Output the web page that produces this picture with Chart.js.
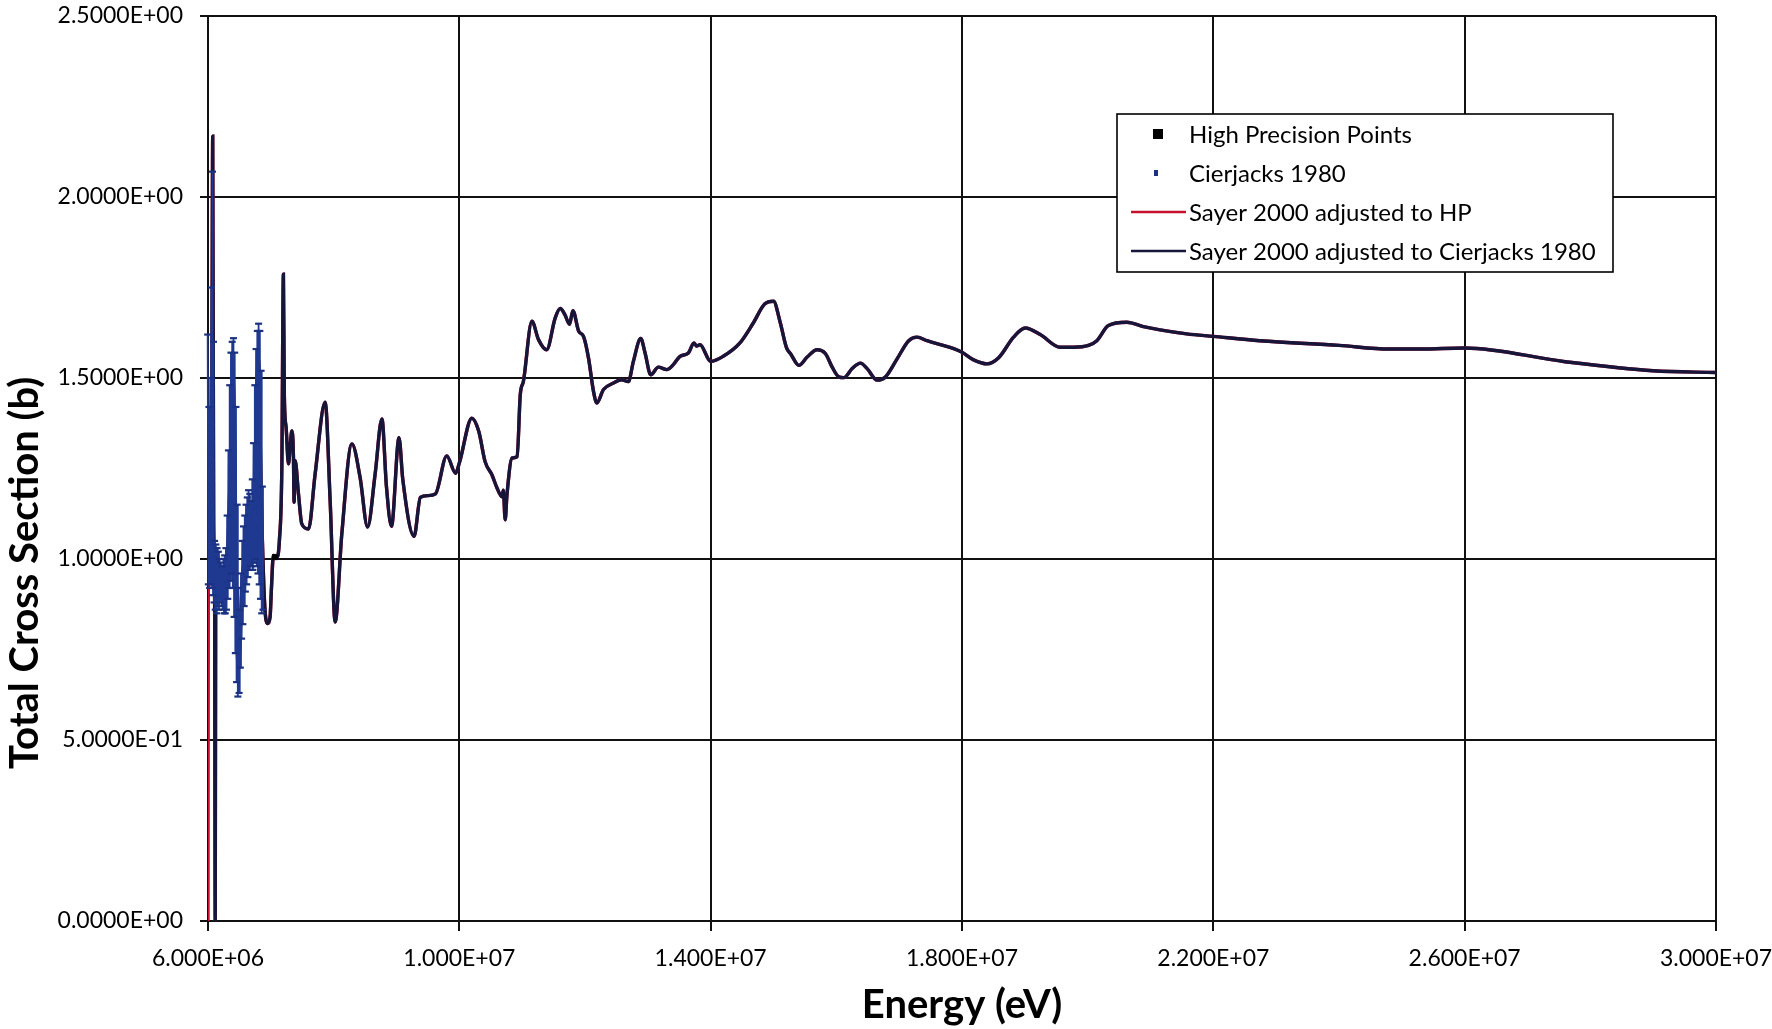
<!DOCTYPE html>
<html lang="en">
<head>
  <meta charset="UTF-8" />
  <title>Total Cross Section vs Energy</title>
  <script src="https://cdn.jsdelivr.net/npm/chart.js"></script>
  <style>
    html, body { margin: 0; padding: 0; background: #fff; }
    canvas { display: block; }
  </style>
</head>
<body>
  <canvas id="xsChart" width="1772" height="1029"></canvas>

  <script>
    // axis ticks
    const xTicks = [6e6, 1e7, 1.4e7, 1.8e7, 2.2e7, 2.6e7, 3e7];
    const yTicks = [0, 0.5, 1.0, 1.5, 2.0, 2.5];

    // High precision points (black squares)
    const hpE  = [7.065e6];
    const hpXS = [1.005];

    // Cierjacks 1980 - dense resonance data
    const cierE = [
      5.975e6, 5.985e6, 5.995e6, 6.005e6, 6.015e6, 6.025e6, 6.035e6, 6.045e6, 6.055e6, 6.065e6,
      6.072e6, 6.080e6, 6.088e6, 6.096e6, 6.105e6, 6.115e6, 6.125e6, 6.135e6, 6.145e6, 6.155e6,
      6.165e6, 6.175e6, 6.185e6, 6.195e6, 6.205e6, 6.215e6, 6.225e6, 6.235e6, 6.245e6, 6.255e6,
      6.265e6, 6.275e6, 6.285e6, 6.295e6, 6.305e6, 6.315e6, 6.325e6, 6.335e6, 6.345e6, 6.355e6,
      6.365e6, 6.375e6, 6.385e6, 6.395e6, 6.405e6, 6.415e6, 6.425e6, 6.435e6, 6.445e6, 6.455e6,
      6.465e6, 6.475e6, 6.485e6, 6.495e6, 6.505e6, 6.515e6, 6.525e6, 6.535e6, 6.545e6, 6.555e6,
      6.565e6, 6.575e6, 6.585e6, 6.595e6, 6.605e6, 6.615e6, 6.625e6, 6.635e6, 6.645e6, 6.655e6,
      6.665e6, 6.675e6, 6.685e6, 6.695e6, 6.705e6, 6.715e6, 6.725e6, 6.735e6, 6.745e6, 6.755e6,
      6.765e6, 6.775e6, 6.785e6, 6.795e6, 6.805e6, 6.815e6, 6.825e6, 6.835e6, 6.845e6, 6.855e6,
      6.865e6, 6.875e6
    ];
    const cierXS = [
      1.55, 0.93, 1.62, 0.93, 1.42, 0.92, 1.50, 0.93, 1.75, 0.92,
      2.07, 0.90, 1.60, 0.88, 1.05, 0.86, 1.04, 0.85, 1.03, 0.87,
      1.02, 0.86, 1.00, 0.88, 0.99, 0.87, 0.98, 0.86, 1.00, 0.85,
      1.01, 0.85, 1.03, 0.86, 1.12, 0.89, 1.30, 0.92, 1.48, 0.94,
      1.57, 0.96, 1.60, 0.92, 1.61, 0.84, 1.57, 0.74, 1.42, 0.66,
      1.15, 0.62, 0.92, 0.63, 0.86, 0.70, 0.96, 0.78, 1.05, 0.82,
      1.09, 0.87, 1.12, 0.91, 1.15, 0.93, 1.17, 0.95, 1.19, 0.97,
      1.18, 0.98, 1.16, 0.98, 1.22, 0.97, 1.32, 0.99, 1.48, 1.00,
      1.58, 0.98, 1.63, 0.96, 1.65, 0.93, 1.63, 0.89, 1.52, 0.85,
      1.20, 0.86
    ];

    // Sayer 2000 evaluation (both adjustments coincide on this scale)
    const sayerE = [
      6.005e6, 6.04e6, 6.06e6, 6.075e6, 6.09e6, 6.105e6, 6.115e6, 6.122e6, 6.2e6, 6.3e6,
      6.37e6, 6.40e6, 6.43e6, 6.48e6, 6.55e6, 6.65e6, 6.74e6, 6.80e6, 6.85e6, 6.90e6,
      6.945e6, 6.988e6, 7.01e6, 7.04e6, 7.095e6, 7.136e6, 7.175e6, 7.20e6, 7.215e6, 7.243e6,
      7.28e6, 7.307e6, 7.334e6, 7.36e6, 7.37e6, 7.387e6, 7.44e6, 7.493e6, 7.6e6, 7.705e6,
      7.865e6, 7.944e6, 8.024e6, 8.13e6, 8.29e6, 8.42e6, 8.54e6, 8.66e6, 8.768e6, 8.84e6,
      8.92e6, 9.04e6, 9.1e6, 9.28e6, 9.38e6, 9.50e6, 9.62e6, 9.80e6, 9.94e6, 1.0e7,
      1.02e7, 1.031e7, 1.041e7, 1.052e7, 1.06e7, 1.068e7, 1.07e7, 1.073e7, 1.0758e7, 1.084e7,
      1.092e7, 1.097e7, 1.102e7, 1.1155e7, 1.126e7, 1.139e7, 1.1526e7, 1.1605e7, 1.168e7, 1.1754e7,
      1.1807e7, 1.19e7, 1.1976e7, 1.2056e7, 1.2135e7, 1.2188e7, 1.2294e7, 1.2453e7, 1.2585e7, 1.269e7,
      1.277e7, 1.2887e7, 1.2956e7, 1.3046e7, 1.3168e7, 1.33e7, 1.3406e7, 1.3512e7, 1.3645e7, 1.3735e7,
      1.3777e7, 1.383e7, 1.4e7, 1.42e7, 1.4466e7, 1.4678e7, 1.4863e7, 1.5e7, 1.5102e7, 1.5208e7,
      1.5272e7, 1.5404e7, 1.5536e7, 1.5695e7, 1.5828e7, 1.5934e7, 1.604e7, 1.612e7, 1.6252e7, 1.6384e7,
      1.649e7, 1.6649e7, 1.6781e7, 1.6967e7, 1.7152e7, 1.7285e7, 1.7444e7, 1.7656e7, 1.7868e7, 1.8e7,
      1.8185e7, 1.8397e7, 1.8583e7, 1.8821e7, 1.9007e7, 1.9245e7, 1.9563e7, 1.9775e7, 2.0013e7, 2.0146e7,
      2.033e7, 2.0622e7, 2.0887e7, 2.1152e7, 2.1576e7, 2.2e7, 2.274e7, 2.40e7, 2.48e7, 2.53e7,
      2.60e7, 2.76e7, 2.90e7, 3.0e7
    ];
    const sayerXS = [
      0.95, 1.00, 1.30, 2.168, 1.10, 0.92, 0.00, 0.90, 0.92, 0.95,
      1.35, 1.50, 1.20, 0.70, 0.95, 1.05, 1.15, 1.55, 1.15, 0.88,
      0.822, 0.84, 0.92, 1.01, 1.005, 1.05, 1.253, 1.787, 1.45, 1.364,
      1.263, 1.308, 1.354, 1.281, 1.157, 1.272, 1.18, 1.097, 1.083, 1.235,
      1.433, 1.161, 0.826, 1.07, 1.318, 1.226, 1.088, 1.235, 1.387, 1.20,
      1.09, 1.335, 1.22, 1.063, 1.17, 1.175, 1.18, 1.285, 1.237, 1.265,
      1.389, 1.352, 1.269, 1.232, 1.196, 1.172, 1.19, 1.108, 1.177, 1.279,
      1.283, 1.454, 1.491, 1.657, 1.606, 1.578, 1.666, 1.692, 1.675, 1.648,
      1.686, 1.629, 1.615, 1.555, 1.463, 1.431, 1.468, 1.486, 1.495, 1.49,
      1.546, 1.609, 1.569, 1.509, 1.53, 1.523, 1.537, 1.56, 1.569, 1.597,
      1.588, 1.592, 1.546, 1.56, 1.597, 1.652, 1.705, 1.712, 1.657, 1.583,
      1.567, 1.535, 1.558, 1.578, 1.567, 1.53, 1.503, 1.501, 1.526, 1.541,
      1.526, 1.494, 1.503, 1.553, 1.603, 1.613, 1.603, 1.592, 1.581, 1.571,
      1.55, 1.539, 1.556, 1.613, 1.638, 1.62, 1.585, 1.585, 1.59, 1.603,
      1.645, 1.654, 1.642, 1.633, 1.622, 1.615, 1.603, 1.59, 1.58, 1.58,
      1.583, 1.545, 1.52, 1.515
    ];
    // the HP-adjusted curve starts from zero at the left edge
    const hpLeadE  = [6.0e6];
    const hpLeadXS = [0];

    const FONT = 'Lato, "Open Sans", sans-serif';

    const toPts = (xs, ys) => xs.map((x, i) => ({ x, y: ys[i] }));

    // Excel-like scientific labels, e.g. 2.5000E+00
    const sci = (v, digits) => {
      const [m, e] = Number(v).toExponential(digits).split('e');
      const n = parseInt(e, 10);
      return m + 'E' + (n < 0 ? '-' : '+') + String(Math.abs(n)).padStart(2, '0');
    };

    const legendItems = [
      { label: 'High Precision Points', kind: 'square', color: '#000' },
      { label: 'Cierjacks 1980', kind: 'dash', color: '#1b3282' },
      { label: 'Sayer 2000 adjusted to HP', kind: 'line', color: '#c8102e' },
      { label: 'Sayer 2000 adjusted to Cierjacks 1980', kind: 'line', color: '#16163a' }
    ];

    // y title (off-centre like the original) + boxed legend
    const overlay = {
      id: 'overlay',
      afterDraw(chart) {
        const ctx = chart.ctx;
        ctx.save();
        ctx.translate(25, 573);
        ctx.rotate(-Math.PI / 2);
        ctx.font = 'bold 40px ' + FONT;
        ctx.fillStyle = '#000';
        ctx.textAlign = 'center';
        ctx.textBaseline = 'middle';
        ctx.fillText('Total Cross Section (b)', 0, 0);
        ctx.restore();

        ctx.save();
        ctx.fillStyle = '#fff';
        ctx.fillRect(1117, 114, 496, 158);
        ctx.strokeStyle = '#000';
        ctx.lineWidth = 1.6;
        ctx.strokeRect(1117, 114, 496, 158);
        ctx.font = '24px ' + FONT;
        ctx.textBaseline = 'middle';
        ctx.textAlign = 'left';
        const rows = [134, 173, 212, 251];
        legendItems.forEach((it, i) => {
          const y = rows[i];
          if (it.kind === 'square') {
            ctx.fillStyle = it.color;
            ctx.fillRect(1153, y - 5, 10, 10);
          } else if (it.kind === 'dash') {
            ctx.fillStyle = it.color;
            ctx.fillRect(1154, y - 3, 4, 6);
          } else {
            ctx.strokeStyle = it.color;
            ctx.lineWidth = 2.5;
            ctx.beginPath();
            ctx.moveTo(1131, y);
            ctx.lineTo(1186, y);
            ctx.stroke();
          }
          ctx.fillStyle = '#000';
          ctx.fillText(it.label, 1189, y + 1);
        });
        ctx.restore();
      }
    };

    new Chart(document.getElementById('xsChart'), {
      type: 'scatter',
      data: {
        datasets: [
          {
            label: 'High Precision Points',
            data: toPts(hpE, hpXS),
            pointStyle: 'rect',
            pointRadius: 3.5,
            backgroundColor: '#000',
            borderColor: '#000',
            order: 0
          },
          {
            label: 'Cierjacks 1980',
            data: toPts(cierE, cierXS),
            showLine: true,
            borderColor: '#1f3990',
            borderWidth: 1.8,
            pointStyle: 'line',
            pointRadius: 3.5,
            pointBorderWidth: 2.2,
            pointBorderColor: '#1b3282',
            clip: 6,
            order: 1
          },
          {
            label: 'Sayer 2000 adjusted to HP',
            data: toPts(hpLeadE.concat(sayerE), hpLeadXS.concat(sayerXS)),
            showLine: true,
            borderColor: '#c8102e',
            borderWidth: 3.4,
            pointRadius: 0,
            cubicInterpolationMode: 'monotone',
            order: 3
          },
          {
            label: 'Sayer 2000 adjusted to Cierjacks 1980',
            data: toPts(sayerE, sayerXS),
            showLine: true,
            borderColor: '#16163a',
            borderWidth: 3.4,
            pointRadius: 0,
            cubicInterpolationMode: 'monotone',
            order: 2
          }
        ]
      },
      options: {
        responsive: false,
        devicePixelRatio: 1,
        animation: false,
        layout: { padding: { left: 0, right: 56, top: 16, bottom: 0 } },
        plugins: {
          legend: { display: false },
          tooltip: { enabled: false }
        },
        scales: {
          x: {
            type: 'linear',
            min: 6e6,
            max: 3e7,
            afterBuildTicks: s => { s.ticks = xTicks.map(v => ({ value: v })); },
            afterFit: s => { s.height = 108; s.paddingLeft = 0; s.paddingRight = 0; },
            grid: { color: '#111', lineWidth: 2, tickLength: 10, tickColor: '#111' },
            border: { color: '#111', width: 2 },
            ticks: {
              color: '#000',
              font: { family: FONT, size: 23 },
              padding: 14,
              maxRotation: 0,
              autoSkip: false,
              callback: v => sci(v, 3)
            },
            title: {
              display: true,
              text: 'Energy (eV)',
              color: '#000',
              font: { family: FONT, size: 40, weight: 'bold' },
              padding: { top: 0, bottom: 0 }
            }
          },
          y: {
            min: 0,
            max: 2.5,
            afterBuildTicks: s => { s.ticks = yTicks.map(v => ({ value: v })); },
            afterFit: s => { s.width = 208; s.paddingTop = 0; s.paddingBottom = 0; },
            grid: { color: '#111', lineWidth: 2, tickLength: 8, tickColor: '#111' },
            border: { color: '#111', width: 2 },
            ticks: {
              color: '#000',
              font: { family: FONT, size: 23 },
              padding: 17,
              callback: v => sci(v, 4)
            }
          }
        }
      },
      plugins: [overlay]
    });
  </script>
</body>
</html>
